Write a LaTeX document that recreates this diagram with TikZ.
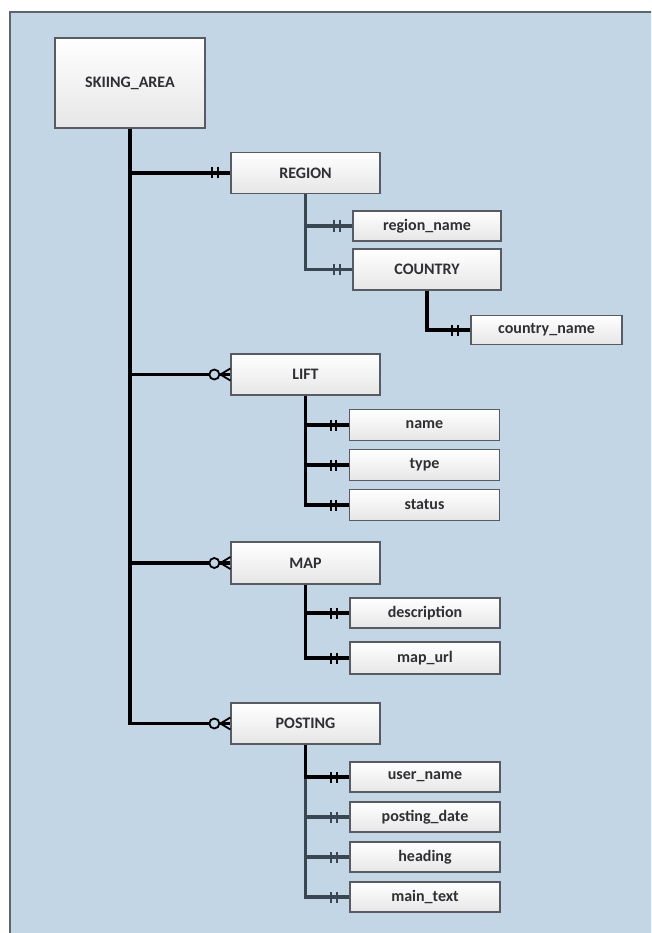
\documentclass[tikz,border=0pt]{standalone}
\usepackage{fontspec}
\setmainfont{Carlito}
\definecolor{panel}{RGB}{195,214,230}
\definecolor{panelline}{RGB}{95,100,108}
\definecolor{boxline}{RGB}{88,92,98}
\definecolor{boxbot}{RGB}{230,230,230}
\definecolor{txt}{RGB}{48,48,52}
\definecolor{linkgray}{RGB}{58,70,80}
% one-and-only-one mark: two short bars in front of the entity box
\newcommand{\onlyone}[2][black]{%
  \draw[#1, line width=2.2pt] ([xshift=-18pt,yshift=-5.5pt]#2.west) -- ([xshift=-18pt,yshift=5.5pt]#2.west);
  \draw[#1, line width=2.2pt] ([xshift=-12.5pt,yshift=-5.5pt]#2.west) -- ([xshift=-12.5pt,yshift=5.5pt]#2.west);}
% zero-or-many mark: ring plus crow's foot
\newcommand{\zeromany}[1]{%
  \draw[black, line width=1.8pt] ([xshift=-10pt]#1.west) -- ([yshift=-6pt]#1.west)
        ([xshift=-10pt]#1.west) -- ([yshift=6pt]#1.west);
  \draw[black, line width=1.8pt, fill=panel] ([xshift=-16pt]#1.west) circle (5pt);}
\begin{document}
\begin{tikzpicture}[x=1pt,y=-1pt,
  entity/.style={draw=boxline, line width=1.3pt, top color=white, bottom color=boxbot,
    font=\bfseries\fontsize{16}{18}\selectfont, text=txt, inner sep=0pt,
    minimum width=149pt, minimum height=41pt},
  attr/.style={entity, minimum width=150pt, minimum height=31pt},
  link/.style={line width=3.2pt, black},
  sublink/.style={line width=3.2pt, linkgray}]
\useasboundingbox (0,0) rectangle (651,933);
\clip (0,0) rectangle (651,933);
% background panel
\fill[panel] (10,12) rectangle (670,950);
\draw[panelline, line width=1.8pt] (10,950) -- (10,12) -- (670,12);

% entities and attributes
\node[entity, minimum width=150pt, minimum height=90pt] (ski) at (130,83) {SKIING\_AREA};
\node[entity] (region) at (305.5,173) {REGION};
\node[attr, minimum width=148pt, minimum height=30pt] (rname) at (427,226) {region\_name};
\node[entity, minimum width=148pt] (country) at (427,269.5) {COUNTRY};
\node[attr, minimum width=151pt, minimum height=29pt] (cname) at (546.5,330) {country\_name};
\node[entity] (lift) at (305.5,374.5) {LIFT};
\node[attr] (lname) at (424.5,425) {name};
\node[attr] (ltype) at (424.5,465) {type};
\node[attr] (lstatus) at (424.5,505) {status};
\node[entity, minimum height=42pt] (map) at (305.5,563) {MAP};
\node[attr, minimum height=30pt] (mdesc) at (425,613) {description};
\node[attr, minimum height=32pt] (murl) at (425,658) {map\_url};
\node[entity] (posting) at (305.5,723.5) {POSTING};
\node[attr, minimum height=30pt] (puser) at (425,777) {user\_name};
\node[attr, minimum height=30pt] (pdate) at (425,817) {posting\_date};
\node[attr, minimum height=30pt] (phead) at (425,857) {heading};
\node[attr, minimum height=30pt] (ptext) at (425,897) {main\_text};

% SKIING_AREA relationships
\draw[link] (ski.south) |- (region.west);
\draw[link] (ski.south) |- (lift.west);
\draw[link] (ski.south) |- (map.west);
\draw[link] (ski.south) |- (posting.west);
\onlyone{region}
\zeromany{lift}
\zeromany{map}
\zeromany{posting}

% REGION
\draw[sublink] (region.south) |- (rname.west);
\draw[sublink] (region.south) |- (country.west);
\onlyone[linkgray]{rname}
\onlyone[linkgray]{country}
\draw[link] (country.south) |- (cname.west);
\onlyone{cname}

% LIFT
\draw[link] (lift.south) |- (lname.west);
\draw[link] (lift.south) |- (ltype.west);
\draw[link] (lift.south) |- (lstatus.west);
\onlyone{lname}
\onlyone{ltype}
\onlyone{lstatus}

% MAP
\draw[link] (map.south) |- (mdesc.west);
\draw[link] (map.south) |- (murl.west);
\onlyone{mdesc}
\onlyone{murl}

% POSTING
\draw[sublink] (posting.south) |- (ptext.west);
\draw[sublink] (posting.south) |- (pdate.west);
\draw[sublink] (posting.south) |- (phead.west);
\draw[link] (posting.south) |- (puser.west);
\onlyone{puser}
\onlyone[linkgray]{pdate}
\onlyone[linkgray]{phead}
\onlyone[linkgray]{ptext}
\end{tikzpicture}
\end{document}
